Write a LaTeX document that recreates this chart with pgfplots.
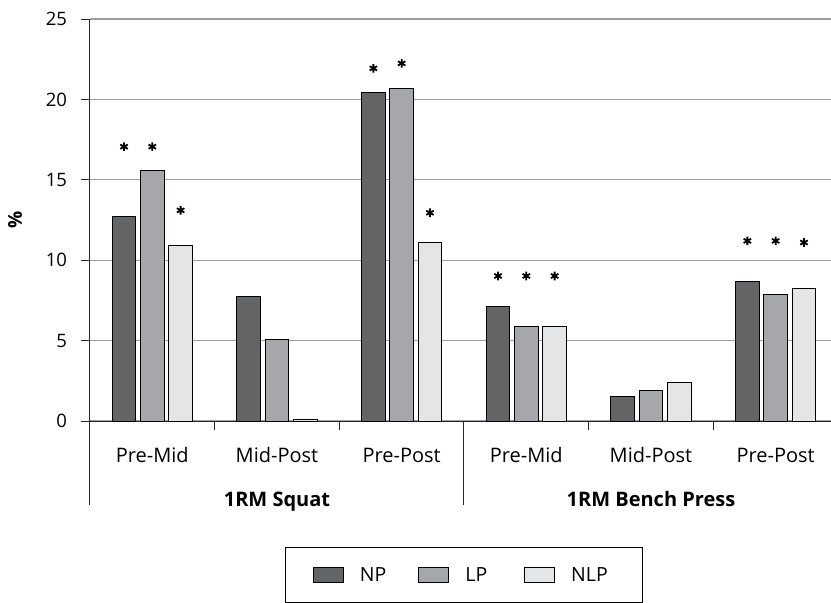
\documentclass[border=0pt]{standalone}
\usepackage{fontspec}
\setmainfont{Open Sans}
\usepackage{pgfplots}
\pgfplotsset{compat=1.18}
\definecolor{cNP}{RGB}{99,100,102}
\definecolor{cLP}{RGB}{166,167,170}
\definecolor{cNLP}{RGB}{228,229,230}
\definecolor{cAx}{RGB}{40,40,40}
\pgfplotsset{
  mybar/.style={ybar, bar width=0.19, draw=black, line width=1pt,
    legend image code/.code={\draw[##1, line width=1pt] (0pt,-7.5pt) rectangle (30pt,7.5pt);}},
}
\begin{document}
\begin{tikzpicture}
\useasboundingbox (0,0) rectangle (831pt,603pt);
\begin{axis}[
  at={(90pt,182pt)}, anchor=south west,
  scale only axis, width=748pt, height=402pt,
  xmin=-0.5, xmax=5.5, ymin=0, ymax=25,
  clip=false,
  axis lines=left,
  axis line style={draw=cAx, line width=1pt, -},
  ytick={0,5,10,15,20,25},
  ymajorgrids,
  grid style={draw=black!38, line width=1.1pt},
  tick align=outside,
  major tick length=8.5pt,
  ytick style={draw=cAx, line width=1pt},
  xtick={0,1,2,3,4,5},
  xticklabels={Pre-Mid,Mid-Post,Pre-Post,Pre-Mid,Mid-Post,Pre-Post},
  xtick style={draw=none},
  extra x ticks={0.5,1.5,3.5,4.5},
  extra x tick labels={},
  extra x tick style={xtick style={draw=cAx, line width=1pt}},
  xticklabel style={anchor=base, yshift=-33pt, font=\fontsize{20}{24}\selectfont},
  yticklabel style={xshift=-11pt, font=\fontsize{18.5}{22}\selectfont},
  /pgf/number format/assume math mode=true,
  every axis y label/.style={at={(axis description cs:-0.1003,0.5)}, anchor=center, rotate=90, font=\bfseries\fontsize{19}{23}\selectfont},
  ylabel={\%},
  legend columns=3,
  legend style={at={(axis cs:2.5,0)}, anchor=north, yshift=-126pt,
    draw=black, line width=1pt, inner xsep=27pt, inner ysep=18pt,
    font=\fontsize{19.5}{23}\selectfont,
    /tikz/every even column/.append style={column sep=14.7pt},
    /tikz/every odd column/.append style={column sep=14pt}},
]
\addplot[mybar, bar shift=-0.227, fill=cNP] coordinates {(0,12.71) (1,7.73) (2,20.42) (3,7.15) (4,1.55) (5,8.66)};
\addlegendentry{\makebox[42pt][l]{NP}}
\addplot[mybar, bar shift=0, fill=cLP] coordinates {(0,15.55) (1,5.08) (2,20.67) (3,5.89) (4,1.89) (5,7.84)};
\addlegendentry{\makebox[42pt][l]{LP}}
\addplot[mybar, bar shift=0.227, fill=cNLP] coordinates {(0,10.9) (1,0.12) (2,11.09) (3,5.89) (4,2.4) (5,8.25)};
\addlegendentry{\makebox[42pt][l]{NLP}}
% significance asterisks
\addplot[forget plot, only marks, mark=asterisk, mark size=4.3pt, line width=1.8pt, black]
  coordinates {(-0.227,17.06) (1.773,21.93) (2.773,9.02) (4.773,11.2)};
\addplot[forget plot, only marks, mark=asterisk, mark size=4.3pt, line width=1.8pt, black]
  coordinates {(0,17.06) (2,22.24) (3,9.02) (5,11.2)};
\addplot[forget plot, only marks, mark=asterisk, mark size=4.3pt, line width=1.8pt, black]
  coordinates {(0.227,13.1) (2.227,12.95) (3.227,9.02) (5.227,11.1)};
% group separators and group labels
\draw[cAx, line width=1pt] (axis cs:-0.5,0) -- ++(0pt,-84pt);
\draw[cAx, line width=1pt] (axis cs:2.5,0) -- ++(0pt,-84pt);
\node[anchor=base, font=\bfseries\fontsize{20}{24}\selectfont] at (axis cs:1,0) [yshift=-85pt] {1RM Squat};
\node[anchor=base, font=\bfseries\fontsize{20}{24}\selectfont] at (axis cs:4,0) [yshift=-85pt] {1RM Bench Press};
\end{axis}
\end{tikzpicture}
\end{document}
